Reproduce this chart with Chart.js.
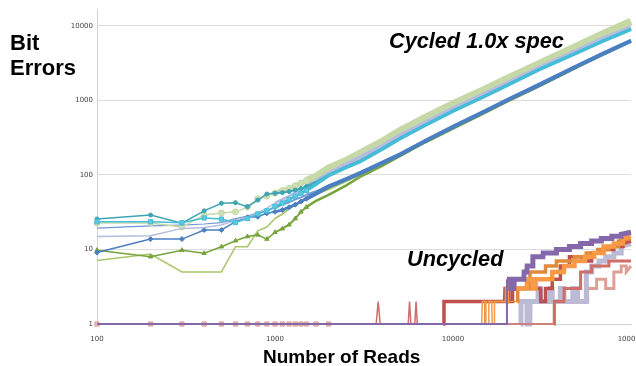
<!DOCTYPE html>
<html>
<head>
<meta charset="utf-8">
<script src="https://cdn.jsdelivr.net/npm/chart.js@4/dist/chart.umd.min.js"></script>
<style>
  html, body { margin: 0; padding: 0; background: #fff; overflow: hidden; width: 636px; height: 366px; }
  #wrap { position: relative; width: 650px; height: 366px; }
  canvas { position: absolute; left: 0; top: 0; }
  .lbl { position: absolute; font-family: "Liberation Sans", Arial, sans-serif; font-weight: bold; color: #000; white-space: nowrap; }
</style>
</head>
<body>
<div id="wrap">
  <canvas id="c" width="650" height="366"></canvas>
  <div class="lbl" style="left:10px; top:30px; font-size:22px; line-height:25px;">Bit<br>Errors</div>
  <div class="lbl" style="left:263px; top:347px; font-size:19px; line-height:19px;">Number of Reads</div>
  <div class="lbl" style="left:389px; top:30px; font-size:21.7px; line-height:21px; font-style:italic;">Cycled 1.0x spec</div>
  <div class="lbl" style="left:407px; top:248px; font-size:21.7px; line-height:21px; font-style:italic;">Uncycled</div>
</div>
<script>
// ---------- tick labels ----------
const xTicks = [100, 1000, 10000, 100000];
const yTicks = [1, 10, 100, 1000, 10000];

// ---------- Cycled 1.0x spec (shared read counts) ----------
const cycledReads = [100,200,300,400,500,600,700,800,900,1000,1100,1200,1300,1400,1500,1700,2000,2500,3000,4000,5000,7000,10000,15000,20000,30000,50000,70000,100000];
const cycGreenGray = [22.6,22.6,20,29,31,32,37,48,52,57,62,66,72,78,84,95,123,155,195,280,390,590,900,1400,1950,3050,5400,7900,11500];
const cycLavender  = [14.9,15.3,19.2,19.8,21.3,24.9,27,31,36,42,47,52,58,63,70,82,105,138,172,245,335,505,780,1220,1700,2700,4700,6800,9600];
const cycCyan      = [23.6,23.6,22.9,26.5,25.6,23,26,30,33,38,42,47,52,57,62,75,98,125,151,222,305,465,720,1130,1580,2550,4400,6300,9000];
const cycTeal      = [25.7,29,22.5,33,41.7,42.5,37.6,46,55.6,56.8,58,60,63,66,70,80,100,128,155,226,310,470,725,1140,1590,2560,4420,6330,9050];
const cycMidBlue   = [19.4,20.7,21.3,22,23,26,28,31,33,36,40,43,47,50,54,60,72,90,108,150,192,295,455,730,1030,1640,2980,4400,6450];
const cycDarkBlue  = [9.1,13.8,13.8,18.3,18.3,23.6,27,27.5,30.6,32,34,37,40,44,48,56,70,87,105,145,186,285,441,705,1000,1580,2900,4250,6300];
const cycOlive     = [9.8,8.0,9.8,8.9,10.9,13.1,14.9,15.7,13.8,17,19,21.5,26,32,37,45,54,72,94,132,177,275,420,675,960,1520,2800,4150,6250];
const cycLightGreen= [7.1,8.7,5.0,5.0,5.0,10.9,10.9,17.8,20,26,30,35,40,45,49,56,64,82,100,140,182,280,430,690,980,1550,2850,4200,6350];

// ---------- Uncycled (each run has its own change points) ----------
const uncPinkReads  = [100,200,300,400,500,600,700,800,900,1000,1100,1200,1300,1400,1500,1700,2000,37000,37100,57000,57100,64000,64100,72000,72100,80000,80100,88000,88100,94000,94100,100000];
const uncPinkErrors = [1,1,1,1,1,1,1,1,1,1,1,1,1,1,1,1,1,1,2,2,3,3,4,4,3,3,5,5,6,6,5,6];

const uncRedAReads  = [100,3700,3800,3900,5600,5700,5800,6100,6200,6300,37000,37100,42000,42100,52000,52100,60000,60100,75000,75100,100000];
const uncRedAErrors = [1,1,2,1,1,2,1,1,2,1,1,2,2,3,3,5,5,6,6,7,7];

const uncRedBReads  = [100,8800,8900,19500,19600,20500,20600,21500,21600,31000,31100,33000,33100,36000,36100,40000,40100,45000,45100,53000,53100,60000,60100,70000,70100,80000,80100,90000,90100,100000];
const uncRedBErrors = [1,1,2,2,3,3,2,2,3,3,2,2,3,3,4,4,6,6,8,8,7,7,9,9,10,10,11,11,12,13];

const uncOrangeReads  = [100,14500,14600,15200,15300,15800,15900,16500,16600,17000,17100,20000,20100,26000,26100,28000,28100,29000,29100,36000,36100,42000,42100,48000,48100,55000,55100,62000,62100,70000,70100,80000,80100,90000,90100,100000];
const uncOrangeErrors = [1,1,2,2,1,1,2,2,1,1,2,2,3,3,4,4,3,3,4,4,5,5,6,6,7,7,8,8,9,9,11,11,12,12,14,15];

const uncDkOrangeReads  = [100,15000,15100,23000,23100,27000,27100,33000,33100,38000,38100,48000,48100,56000,56100,65000,65100,75000,75100,85000,85100,100000];
const uncDkOrangeErrors = [1,1,2,2,3,3,5,5,6,6,7,7,8,8,9,9,10,10,11,11,13,14];

const uncPurpleReads  = [100,20000,20100,21000,21100,22000,22100,25000,25100,26000,26100,28000,28100,32000,32100,38000,38100,45000,45100,52000,52100,60000,60100,68000,68100,78000,78100,88000,88100,100000];
const uncPurpleErrors = [1,1,4,4,3,3,4,4,5,5,6,6,8,8,9,9,10,10,11,11,12,12,13,13,14,14,15,15,16,17];

const uncGrayReads  = [100,24000,24100,26000,26100,27000,27100,30000,30100,31000,31100,35000,35100,36000,36100,40000,40100,42000,42100,47000,47100,50000,50100,56000,56100,60000,60100,66000,66100,72000,72100,80000,80100,88000,88100,100000];
const uncGrayErrors = [1,1,2,2,1,1,2,2,3,3,2,2,3,3,2,2,3,3,2,2,3,3,2,2,5,5,6,6,7,7,8,8,9,9,11,12];

// ---------- build datasets ----------
function pts(reads, vals) { return reads.map((x, i) => ({ x: x, y: vals[i] })); }

function cycled(vals, color, thin, wide, style, r, fill) {
  return {
    data: pts(cycledReads, vals),
    borderColor: color,
    backgroundColor: fill || color,
    pointBorderColor: color,
    pointBackgroundColor: fill || color,
    pointStyle: style || 'circle',
    pointRadius: ctx => (r && cycledReads[ctx.dataIndex] <= 1500 ? r : 0),
    pointBorderWidth: 1,
    borderWidth: thin,
    segment: { borderWidth: ctx => (cycledReads[ctx.p0DataIndex] >= 1500 ? wide : (cycledReads[ctx.p0DataIndex] >= 1000 ? (thin + wide) / 2 : thin)) },
    tension: 0,
    clip: false
  };
}
function uncycled(reads, vals, color, thin, wide, from, r, fill) {
  return {
    data: pts(reads, vals),
    borderColor: color,
    backgroundColor: fill || color,
    pointBorderColor: color,
    pointBackgroundColor: fill || color,
    pointStyle: 'rect',
    pointRadius: ctx => (r && reads[ctx.dataIndex] <= 2000 ? r : 0),
    pointBorderWidth: 1,
    borderWidth: thin,
    segment: { borderWidth: ctx => (reads[ctx.p0DataIndex] >= from ? wide : thin) },
    tension: 0,
    clip: false
  };
}

const datasets = [
  // uncycled
  uncycled(uncPurpleReads, uncPurpleErrors, '#8468aa', 2, 5, 20100),
  uncycled(uncOrangeReads, uncOrangeErrors, '#f89a45', 1.5, 4.5, 20000),
  uncycled(uncDkOrangeReads, uncDkOrangeErrors, '#df8b3a', 1.5, 3.5, 20000),
  uncycled(uncRedBReads, uncRedBErrors, '#c0504d', 2, 3.5, 8000),
  uncycled(uncRedAReads, uncRedAErrors, '#cf6e68', 1.5, 3, 30000),
  uncycled(uncGrayReads, uncGrayErrors, '#bcbbd6', 2, 5, 24000),
  uncycled(uncPinkReads, uncPinkErrors, '#dea096', 1.5, 3, 30000, 3, '#ebbdb4'),
  // cycled
  cycled(cycCyan, '#45bcd8', 1.5, 3.5, 'rect', 3, '#5ccbe0'),
  cycled(cycTeal, '#3fa4b3', 1.5, 2.5, 'circle', 2),
  cycled(cycLavender, '#b5bce0', 1.5, 4, null, 0),
  cycled(cycGreenGray, '#c5d8a6', 1.5, 7.5, 'circle', 3, '#cfdfb5'),
  cycled(cycDarkBlue, '#4a7fc1', 1.5, 4, 'rectRot', 2.5),
  cycled(cycMidBlue, '#7396d4', 1.2, 2.5, null, 0),
  cycled(cycOlive, '#77a43b', 1.5, 2.5, 'triangle', 2.5),
  cycled(cycLightGreen, '#a9c66a', 1.5, 2, null, 0)
];

new Chart(document.getElementById('c'), {
  type: 'line',
  data: { datasets: datasets },
  options: {
    responsive: false,
    animation: false,
    devicePixelRatio: 1,
    layout: { padding: { left: 0, right: 19, top: 9, bottom: 0 } },
    plugins: { legend: { display: false }, tooltip: { enabled: false } },
    scales: {
      x: {
        type: 'logarithmic',
        min: 100, max: 100000,
        afterBuildTicks: s => { s.ticks = xTicks.map(v => ({ value: v })); },
        afterFit: s => { s.height = 42; },
        grid: { display: false, drawTicks: true, tickLength: 8 },
        border: { display: true, color: '#d4d4d4', width: 1 },
        ticks: {
          autoSkip: false, maxRotation: 0, padding: 3,
          color: '#444', font: { family: 'DejaVu Sans', size: 7 },
          callback: v => String(v)
        }
      },
      y: {
        type: 'logarithmic',
        min: 1, max: 16900,
        afterBuildTicks: s => { s.ticks = yTicks.map(v => ({ value: v })); },
        afterFit: s => { s.width = 97; },
        grid: { display: true, color: '#dcdcdc', lineWidth: 1, drawTicks: false },
        border: { display: true, color: '#d4d4d4', width: 1 },
        ticks: {
          autoSkip: false, padding: 4,
          color: '#444', font: { family: 'DejaVu Sans', size: 7 },
          callback: v => String(v)
        }
      }
    }
  }
});
</script>
</body>
</html>
